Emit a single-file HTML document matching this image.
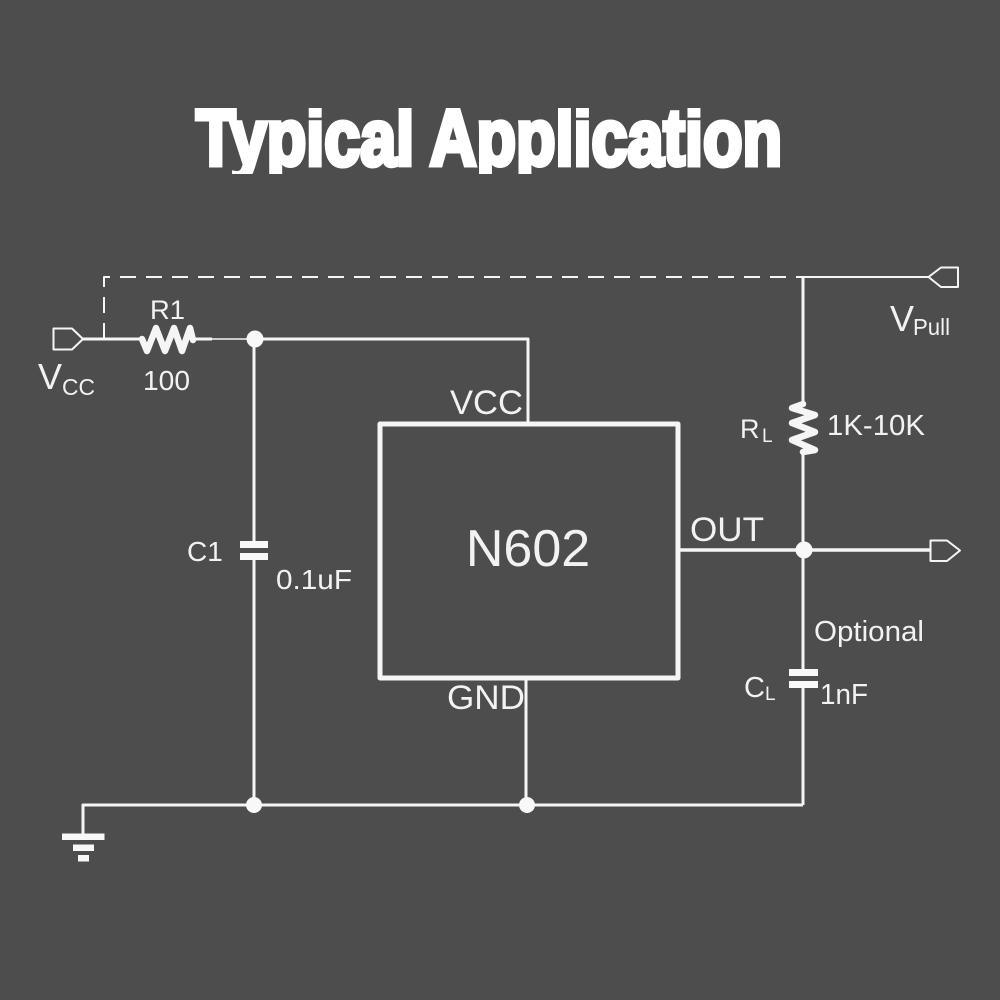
<!DOCTYPE html>
<html>
<head>
<meta charset="utf-8">
<style>
html,body{margin:0;padding:0;background:#4d4d4d}
svg{display:block}
text{font-family:"Liberation Sans",sans-serif;fill:#f2f2f2}
</style>
</head>
<body>
<svg width="1000" height="1000" viewBox="0 0 1000 1000" xmlns="http://www.w3.org/2000/svg">
<defs><clipPath id="tc"><rect x="190" y="108" width="600" height="66"/></clipPath></defs>
<rect width="1000" height="1000" fill="#4d4d4d"/>
<g clip-path="url(#tc)">
<text x="196" y="165" font-size="80" font-weight="700" textLength="586" lengthAdjust="spacingAndGlyphs" style="fill:#fff;stroke:#fff;stroke-width:5">Typical Application</text>
</g>

<g fill="none" stroke="#f5f5f5" stroke-linejoin="round">
  <!-- dashed -->
  <path d="M104 339V277H803" stroke-width="2" stroke-dasharray="16 10"/>
  <!-- wires -->
  <path d="M83 339H142M192 339H212" stroke-width="3"/>
  <path d="M212 339H255" stroke-width="1.5"/>
  <path d="M255 339H528V424" stroke-width="3"/>
  <path d="M254 339V544M254 556V805" stroke-width="3"/>
  <path d="M803 277H929" stroke-width="2"/>
  <path d="M803 277V403M803 453V673M803 685V805" stroke-width="3"/>
  <path d="M678 550H931" stroke-width="3.5"/>
  <path d="M526 678V805" stroke-width="3"/>
  <path d="M83 835V805H803" stroke-width="3"/>
  <!-- box -->
  <rect x="380" y="424" width="298" height="254" stroke-width="5"/>
  <!-- ports -->
  <path d="M53.500 328.500H72L83 339L72 349.500H53.500Z" stroke-width="2"/>
  <path d="M958 267.500H941L928.500 277L941 287H958Z" stroke-width="2"/>
  <path d="M930.500 540.500H947L960 550.500L947 561H930.500Z" stroke-width="2"/>
  <!-- resistors -->
  <path d="M142 339L147 351L156 328L165 351L174 328L182 351L190 328L193 340" stroke-width="6.500" stroke-linecap="round"/>
  <path d="M803 404L792 408L815 415L792 423L815 432L792 440L815 450L803 452" stroke-width="6.500" stroke-linecap="round"/>
</g>

<g fill="#f8f8f8">
  <circle cx="255" cy="339" r="8.500"/>
  <circle cx="804" cy="550" r="8.500"/>
  <circle cx="254" cy="805" r="8"/>
  <circle cx="527" cy="805" r="8"/>
  <!-- C1 -->
  <rect x="240" y="541" width="28" height="7"/>
  <rect x="240" y="553" width="28" height="7"/>
  <!-- CL -->
  <rect x="789" y="669" width="29" height="7"/>
  <rect x="789" y="681" width="29" height="7"/>
  <!-- Ground -->
  <rect x="62" y="833.500" width="42.500" height="6.500"/>
  <rect x="73" y="844.500" width="21" height="6.500"/>
  <rect x="78" y="855" width="11" height="6.500"/>
</g>

<text x="150" y="319" font-size="27" textLength="35" lengthAdjust="spacingAndGlyphs">R1</text>
<text x="143" y="390" font-size="28" textLength="47" lengthAdjust="spacingAndGlyphs">100</text>
<text x="38" y="389" font-size="36">V</text>
<text x="62" y="395" font-size="23" textLength="33" lengthAdjust="spacingAndGlyphs">CC</text>
<text x="450" y="414" font-size="34" textLength="73" lengthAdjust="spacingAndGlyphs">VCC</text>
<text x="528" y="566" font-size="52" text-anchor="middle">N602</text>
<text x="690" y="541" font-size="34" textLength="74" lengthAdjust="spacingAndGlyphs">OUT</text>
<text x="447" y="709" font-size="34" textLength="78" lengthAdjust="spacingAndGlyphs">GND</text>
<text x="187" y="561" font-size="28">C1</text>
<text x="276" y="589" font-size="28" textLength="76" lengthAdjust="spacingAndGlyphs">0.1uF</text>
<text x="890" y="331" font-size="36">V</text>
<text x="913" y="335" font-size="23" textLength="37" lengthAdjust="spacingAndGlyphs">Pull</text>
<text x="740" y="438" font-size="27">R</text>
<text x="762" y="442" font-size="19">L</text>
<text x="827" y="435" font-size="29" textLength="98" lengthAdjust="spacingAndGlyphs">1K-10K</text>
<text x="814" y="641" font-size="29" textLength="110" lengthAdjust="spacingAndGlyphs">Optional</text>
<text x="744" y="697" font-size="29">C</text>
<text x="765" y="700" font-size="19">L</text>
<text x="820" y="704" font-size="29" textLength="48" lengthAdjust="spacingAndGlyphs">1nF</text>
</svg>
</body>
</html>
